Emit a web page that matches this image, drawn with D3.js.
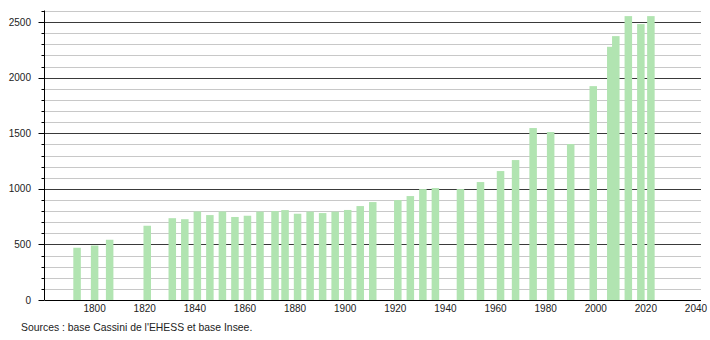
<!DOCTYPE html>
<html>
<head>
<meta charset="utf-8">
<script src="https://cdn.jsdelivr.net/npm/d3@7"></script>
<style>
  body { margin: 0; background: #fff; }
  svg text { font-family: "Liberation Sans", Arial, sans-serif; font-size: 10px; fill: #222; }
</style>
</head>
<body>
<svg id="chart" width="710" height="340"></svg>
<script>
const years = [1793, 1800, 1806, 1821, 1831, 1836, 1841, 1846, 1851, 1856, 1861, 1866, 1872, 1876,
  1881, 1886, 1891, 1896, 1901, 1906, 1911, 1921, 1926, 1931, 1936, 1946, 1954, 1962, 1968,
  1975, 1982, 1990, 1999, 2006, 2008, 2013, 2018, 2022];
const population = [470, 490, 542, 668, 736, 727, 797, 764, 797, 747, 758, 795, 800, 809,
  776, 795, 782, 795, 810, 845, 881, 899, 935, 998, 1007, 998, 1061, 1160, 1259,
  1547, 1511, 1403, 1924, 2278, 2374, 2554, 2482, 2554];
const xTicks = [1800, 1820, 1840, 1860, 1880, 1900, 1920, 1940, 1960, 1980, 2000, 2020, 2040];
const yTicks = [0, 500, 1000, 1500, 2000, 2500];
const source = "Sources : base Cassini de l'EHESS et base Insee.";

const data = years.map((y, i) => ({ year: y, pop: population[i] }));

const svg = d3.select("#chart"),
      plotLeft = 44.5, plotRight = 701, plotTop = 11, plotBottom = 300;

const x = d3.scaleLinear().domain([1780, 2042]).range([plotLeft, plotRight]);
const y = d3.scaleLinear().domain([0, 2600]).range([plotBottom, plotTop]);

// grid lines: minor every 100, major every 500
const minor = d3.range(100, 2601, 100).filter(v => v % 500 !== 0);
svg.append("g")
  .selectAll("line")
  .data(minor)
  .join("line")
    .attr("x1", plotLeft).attr("x2", plotRight)
    .attr("y1", d => Math.round(y(d)) + 0.5).attr("y2", d => Math.round(y(d)) + 0.5)
    .attr("stroke", "#c8c8c8");

svg.append("g")
  .selectAll("line")
  .data(yTicks.slice(1))
  .join("line")
    .attr("x1", plotLeft).attr("x2", plotRight)
    .attr("y1", d => Math.round(y(d)) + 0.5).attr("y2", d => Math.round(y(d)) + 0.5)
    .attr("stroke", "#3a3a3a");

// bars
const barW = x(1783) - x(1780);
svg.append("g")
  .selectAll("rect")
  .data(data)
  .join("rect")
    .attr("x", d => x(d.year) - barW / 2)
    .attr("width", barW)
    .attr("y", d => y(d.pop))
    .attr("height", d => plotBottom - y(d.pop))
    .attr("fill", "#b1e4b1");

// y axis with minor ticks
const yAxis = svg.append("g");
yAxis.append("line")
  .attr("x1", plotLeft).attr("x2", plotLeft)
  .attr("y1", plotTop - 0.5).attr("y2", plotBottom)
  .attr("stroke", "#000");
yAxis.selectAll(".minor-tick")
  .data(minor)
  .join("line")
    .attr("class", "minor-tick")
    .attr("x1", plotLeft - 3).attr("x2", plotLeft)
    .attr("y1", d => Math.round(y(d)) + 0.5).attr("y2", d => Math.round(y(d)) + 0.5)
    .attr("stroke", "#000");
yAxis.selectAll(".major-tick")
  .data(yTicks)
  .join("line")
    .attr("class", "major-tick")
    .attr("x1", plotLeft - 6).attr("x2", plotLeft)
    .attr("y1", d => Math.round(y(d)) + 0.5).attr("y2", d => Math.round(y(d)) + 0.5)
    .attr("stroke", "#000");
yAxis.selectAll("text")
  .data(yTicks)
  .join("text")
    .attr("x", 31)
    .attr("y", d => y(d))
    .attr("dy", "0.35em")
    .attr("text-anchor", "end")
    .text(d => d);

// x axis
svg.append("line")
  .attr("x1", plotLeft).attr("x2", plotRight)
  .attr("y1", plotBottom + 0.5).attr("y2", plotBottom + 0.5)
  .attr("stroke", "#000");
svg.append("g")
  .selectAll("text")
  .data(xTicks)
  .join("text")
    .attr("x", d => x(d))
    .attr("y", 312)
    .attr("text-anchor", "middle")
    .text(d => d);

svg.append("text")
  .attr("x", 21)
  .attr("y", 331)
  .style("font-size", "10.4px")
  .text(source);
</script>
</body>
</html>
